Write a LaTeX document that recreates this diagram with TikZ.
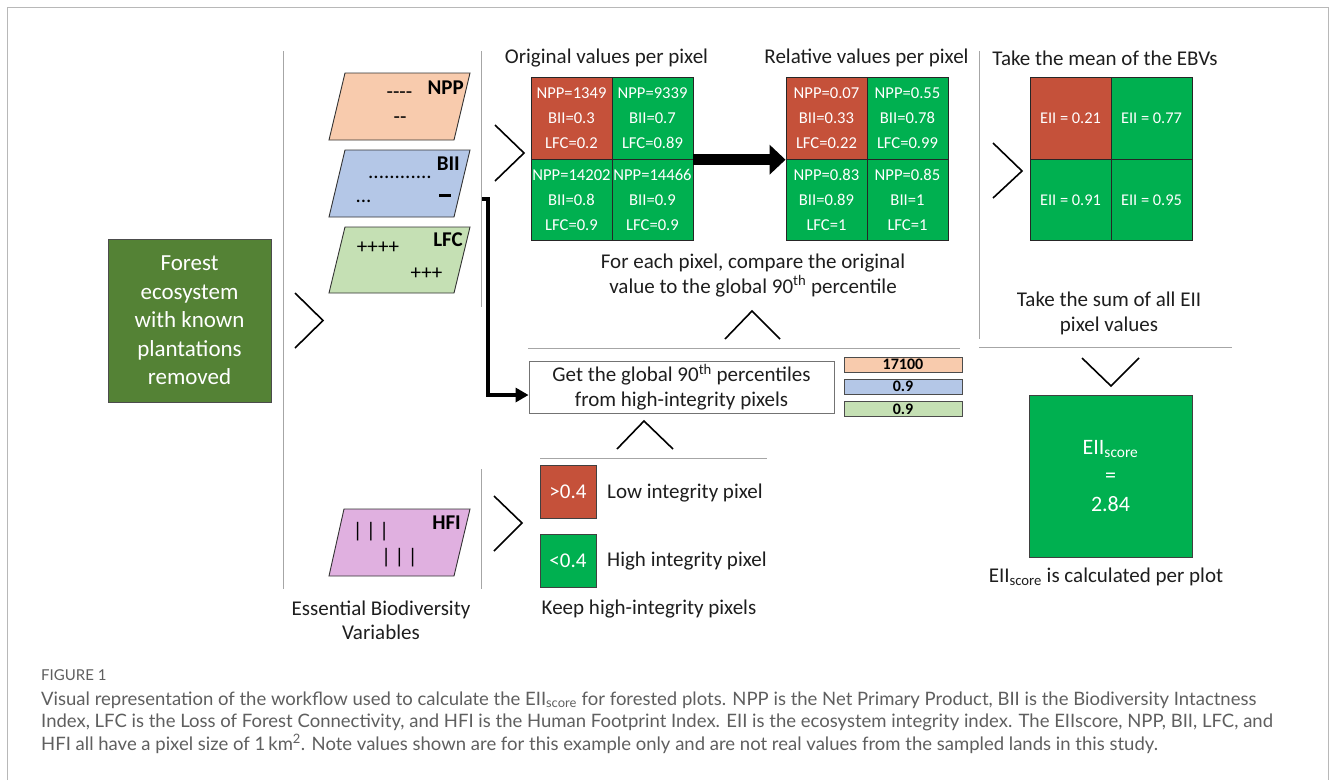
\documentclass[tikz,border=0pt]{standalone}
\usepackage{fontspec}
\setmainfont{Carlito}
\newfontfamily\capfont{Lato}
\usetikzlibrary{arrows.meta}
\definecolor{redpx}{RGB}{197,81,58}
\definecolor{greenpx}{RGB}{0,176,80}
\definecolor{forestgreen}{RGB}{84,130,53}
\definecolor{nppc}{RGB}{248,203,173}
\definecolor{biic}{RGB}{180,199,231}
\definecolor{lfcc}{RGB}{197,224,180}
\definecolor{hfic}{RGB}{224,176,224}
\definecolor{sepgray}{RGB}{166,166,166}
\definecolor{capgray}{RGB}{95,95,95}
\definecolor{txt}{RGB}{30,30,30}
\tikzset{
  sepline/.style={draw=sepgray, line width=1},
  frameline/.style={draw=sepgray!80, line width=1},
  chev/.style={draw=black, line width=1.6},
  cell/.style={draw=black!85, line width=0.9, minimum width=81, minimum height=81.5, inner sep=0,
    text=white, align=center, font=\fontsize{16.6}{25}\selectfont},
  eiicell/.style={cell, font=\fontsize{16.4}{20}\selectfont},
  redcell/.style={fill=redpx},
  greencell/.style={fill=greenpx},
  para/.style={draw=black!80, line width=0.9},
  lbl/.style={font=\bfseries\fontsize{21}{25}\selectfont, text=black, inner sep=0},
  sym/.style={font=\fontsize{21}{25}\selectfont, text=black, inner sep=0},
  body/.style={font=\fontsize{21}{25}\selectfont, text=txt, align=center, inner sep=0},
  bar/.style={draw=black!70, line width=0.8, minimum width=118, minimum height=15, inner sep=0,
    font=\bfseries\fontsize{16}{16}\selectfont},
  captext/.style={font=\capfont\fontsize{18.5}{22}\selectfont, text=capgray, anchor=west, inner sep=0},
  thickarrow/.style={line width=4, -{Triangle[length=13, width=14]}},
  blockarrow/.style={line width=11, -{Triangle[length=16, width=29]}}
}
\begin{document}
\begin{tikzpicture}[x=1pt, y=-1pt]
\useasboundingbox (0,0) rectangle (1331,780);
\fill[white] (0,0) rectangle (1331,780);
\draw[frameline] (7,780) -- (7,7) -- (1328,7) -- (1328,780);

% separators
\draw[sepline] (283,51) -- (283,589);
\draw[sepline] (481,51) -- (481,307);
\draw[sepline] (481,469) -- (481,589);
\draw[sepline] (979,51) -- (979,339);
\draw[sepline] (528,348) -- (960,348);
\draw[sepline] (540,458) -- (767,458);
\draw[sepline] (979,347) -- (1232,347);

% forest box
\node[fill=forestgreen, draw=black!70, line width=0.9, minimum width=163, minimum height=163,
  text=white, align=center, font=\fontsize{23}{28.5}\selectfont] (forest) at (189.5,320.5)
  {Forest\\ecosystem\\with known\\plantations\\removed};

% chevrons
\draw[chev] (295,293) -- (323,320.5) -- (295,348);
\draw[chev] (495,125) -- (524,153) -- (495,181);
\draw[chev] (993,143) -- (1022,171) -- (993,198);
\draw[chev] (494,496) -- (522,523) -- (494,551);
\draw[chev] (725,339) -- (752,311) -- (780,339);
\draw[chev] (617,449) -- (644,421) -- (673,449);
\draw[chev] (1082,358) -- (1111,386) -- (1139,358);

% parallelograms
\filldraw[para, fill=nppc] (329,140) -- (345,73) -- (470,73) -- (454,140) -- cycle;
\node[lbl, anchor=east] (npplbl) at (464,88) {NPP};
\node[sym] (nppm1) at (399.5,95) {-{}-{}-{}-};
\node[sym] (nppm2) at (400,120) {-{}-};

\filldraw[para, fill=biic] (329,217) -- (345,150) -- (470,150) -- (454,217) -- cycle;
\node[lbl, anchor=east] (biilbl) at (460,164) {BII};
\node[sym] (biim1) at (400,177) {............};
\node[sym] (biim2) at (363.5,201) {...};
\node[sym] (biim3) at (445,195) {\rule{12pt}{3pt}};

\filldraw[para, fill=lfcc] (329,293) -- (345,227) -- (470,227) -- (454,293) -- cycle;
\node[lbl, anchor=east] (lfclbl) at (463,240) {LFC};
\node[sym] (lfcm1) at (378,248) {++++};
\node[sym] (lfcm2) at (426.5,274) {+++};

\filldraw[para, fill=hfic] (329,576) -- (344,509) -- (470,509) -- (454,576) -- cycle;
\node[lbl, anchor=east] (hfilbl) at (461,523) {HFI};
\node[sym] (hfim1) at (371,532) {|\,|\,|};
\node[sym] (hfim2) at (399.5,558) {|\,|\,|};

% titles
\node[body] (t1) at (606.5,58) {Original values per pixel};
\node[body] (t2) at (866.5,58) {Relative values per pixel};
\node[body] (t3) at (1105,58) {Take the mean of the EBVs};

% original grid
\node[cell, redcell] (o11) at (571.5,118.5) {NPP=1349\\BII=0.3\\LFC=0.2};
\node[cell, greencell] (o12) at (652.5,118.5) {NPP=9339\\BII=0.7\\LFC=0.89};
\node[cell, greencell] (o21) at (571.5,200) {NPP=14202\\BII=0.8\\LFC=0.9};
\node[cell, greencell] (o22) at (652.5,200) {NPP=14466\\BII=0.9\\LFC=0.9};

% relative grid
\node[cell, redcell] (r11) at (826.5,118.5) {NPP=0.07\\BII=0.33\\LFC=0.22};
\node[cell, greencell] (r12) at (907.5,118.5) {NPP=0.55\\BII=0.78\\LFC=0.99};
\node[cell, greencell] (r21) at (826.5,200) {NPP=0.83\\BII=0.89\\LFC=1};
\node[cell, greencell] (r22) at (907.5,200) {NPP=0.85\\BII=1\\LFC=1};

% EII grid
\node[eiicell, redcell] (e11) at (1070.5,118.5) {EII = 0.21};
\node[eiicell, greencell] (e12) at (1151.5,118.5) {EII = 0.77};
\node[eiicell, greencell] (e21) at (1070.5,200) {EII = 0.91};
\node[eiicell, greencell] (e22) at (1151.5,200) {EII = 0.95};

\draw[blockarrow] (o12.south east) -- (r11.south west);

% middle texts
\node[body] (compare) at (753,275.5) {For each pixel, compare the original\\value to the global 90\textsuperscript{th} percentile};
\node[body, draw=black!55, line width=0.9, minimum width=305, minimum height=52] (pct) at (681.5,387)
  {Get the global 90\textsuperscript{th} percentiles\\from high-integrity pixels};
\node[bar, fill=nppc] (b1) at (903,364.5) {17100};
\node[bar, fill=biic] (b2) at (903,386.5) {0.9};
\node[bar, fill=lfcc] (b3) at (903,409) {0.9};

\coordinate (bstart) at (482,199);
\draw[thickarrow] (bstart) -- ++(6,0) |- ([yshift=-8pt]pct.west);

% integrity pixels
\node[draw=black!75, line width=0.9, fill=redpx, minimum width=56, minimum height=53, inner sep=0,
  text=white, font=\fontsize{21}{25}\selectfont] (low) at (568,491.5) {>0.4};
\node[draw=black!75, line width=0.9, fill=greenpx, minimum width=56, minimum height=53, inner sep=0,
  text=white, font=\fontsize{21}{25}\selectfont] (high) at (568,560.5) {<0.4};
\node[body, anchor=west] (lowt) at (607,493) {Low integrity pixel};
\node[body, anchor=west] (hight) at (607,561) {High integrity pixel};
\node[body] (keep) at (649,609) {Keep high-integrity pixels};
\node[body, font=\fontsize{21}{23.5}\selectfont] (ebv) at (381,620.5) {Essential Biodiversity\\Variables};

% right column
\node[body] (sum) at (1109,313.5) {Take the sum of all EII\\pixel values};
\node[fill=greenpx, draw=black!75, line width=0.9, minimum width=163, minimum height=162, inner sep=0,
  text=white, align=center, font=\fontsize{22}{28.5}\selectfont] (score) at (1110.5,476)
  {EII\textsubscript{score}\\=\\2.84};
\node[body] (perplot) at (1106,577) {EII\textsubscript{score} is calculated per plot};

% caption
\node[captext, font=\capfont\fontsize{15}{18}\selectfont] (fig) at (41,675) {FIGURE 1};
\node[captext] (c1) at (41,700) {Visual representation of the workflow used to calculate the EII\textsubscript{score} for forested plots. NPP is the Net Primary Product, BII is the Biodiversity Intactness};
\node[captext] (c2) at (41,722) {Index, LFC is the Loss of Forest Connectivity, and HFI is the Human Footprint Index. EII is the ecosystem integrity index. The EIIscore, NPP, BII, LFC, and};
\node[captext] (c3) at (41,744) {HFI all have a pixel size of 1\,km\textsuperscript{2}. Note values shown are for this example only and are not real values from the sampled lands in this study.};
\end{tikzpicture}
\end{document}
